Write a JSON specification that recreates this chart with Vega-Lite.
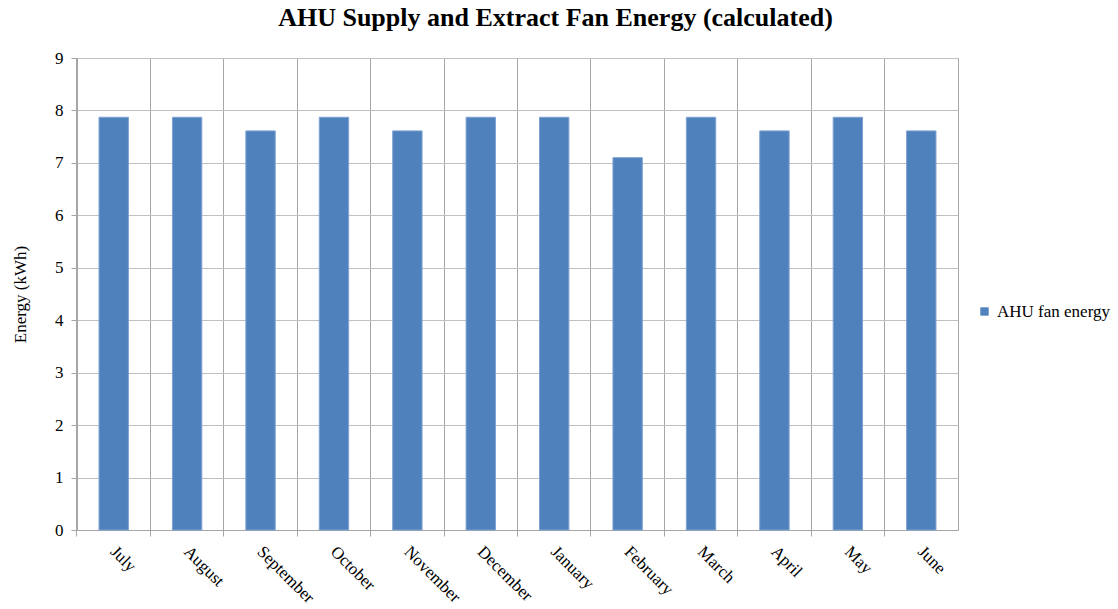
{
  "$schema": "https://vega.github.io/schema/vega-lite/v6.json",
  "autosize": "none",
  "width": 881,
  "height": 472,
  "padding": {"left": 77, "top": 58, "right": 160, "bottom": 79},
  "background": "white",
  "title": {
    "text": "AHU Supply and Extract Fan Energy (calculated)",
    "font": "Liberation Serif",
    "fontSize": 26,
    "fontWeight": "bold",
    "color": "#000000",
    "anchor": "middle",
    "dx": 38,
    "offset": 18
  },
  "config": {
    "view": {"stroke": "#a6a6a6", "strokeWidth": 1},
    "font": "Liberation Serif",
    "axis": {"labelFont": "Liberation Serif", "titleFont": "Liberation Serif"},
    "legend": {"labelFont": "Liberation Serif", "titleFont": "Liberation Serif"}
  },
  "data": {
    "values": [
      {"month": "July", "series": "AHU fan energy", "energy": 7.87},
      {"month": "August", "series": "AHU fan energy", "energy": 7.87},
      {"month": "September", "series": "AHU fan energy", "energy": 7.61},
      {"month": "October", "series": "AHU fan energy", "energy": 7.87},
      {"month": "November", "series": "AHU fan energy", "energy": 7.61},
      {"month": "December", "series": "AHU fan energy", "energy": 7.87},
      {"month": "January", "series": "AHU fan energy", "energy": 7.87},
      {"month": "February", "series": "AHU fan energy", "energy": 7.1},
      {"month": "March", "series": "AHU fan energy", "energy": 7.87},
      {"month": "April", "series": "AHU fan energy", "energy": 7.61},
      {"month": "May", "series": "AHU fan energy", "energy": 7.87},
      {"month": "June", "series": "AHU fan energy", "energy": 7.61}
    ]
  },
  "mark": {"type": "bar", "stroke": "#7fa2d2", "strokeWidth": 1},
  "encoding": {
    "x": {
      "field": "month",
      "type": "nominal",
      "sort": null,
      "scale": {"paddingInner": 0.6, "paddingOuter": 0.3},
      "axis": {
        "title": null,
        "bandPosition": -0.75,
        "grid": true,
        "gridColor": "#a6a6a6",
        "domainColor": "#a6a6a6",
        "tickColor": "#a6a6a6",
        "tickSize": 6,
        "labelAngle": 45,
        "labelFont": "Liberation Serif",
        "labelFontSize": 17,
        "labelColor": "#000000",
        "labelPadding": 7,
        "labelOffset": 5
      }
    },
    "y": {
      "field": "energy",
      "type": "quantitative",
      "scale": {"domain": [0, 9], "nice": false},
      "axis": {
        "title": "Energy (kWh)",
        "titleFont": "Liberation Serif",
        "titleFontSize": 17,
        "titleFontWeight": "normal",
        "titleColor": "#000000",
        "titlePadding": 25,
        "values": [0, 1, 2, 3, 4, 5, 6, 7, 8, 9],
        "grid": true,
        "gridColor": "#c0c0c0",
        "domainColor": "#a6a6a6",
        "tickColor": "#a6a6a6",
        "tickSize": 6,
        "labelFont": "Liberation Serif",
        "labelFontSize": 17,
        "labelColor": "#000000",
        "labelPadding": 8
      }
    },
    "color": {
      "field": "series",
      "type": "nominal",
      "scale": {"range": ["#4f81bd"]},
      "legend": {
        "title": null,
        "orient": "none",
        "legendX": 899,
        "legendY": 245,
        "symbolType": "square",
        "symbolSize": 70,
        "symbolStrokeWidth": 0,
        "labelFont": "Liberation Serif",
        "labelFontSize": 17,
        "labelColor": "#000000",
        "labelOffset": 4
      }
    }
  }
}
